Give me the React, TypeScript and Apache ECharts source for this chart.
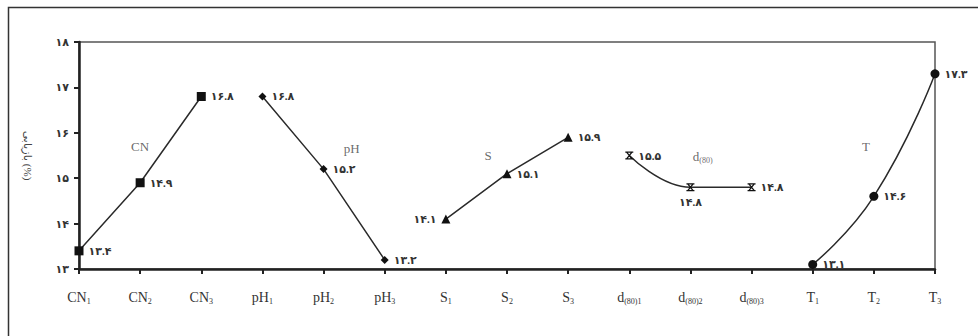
import React, { useEffect, useRef } from "react";
import * as echarts from "echarts";

const categories = [
  "CN{sub|1}", "CN{sub|2}", "CN{sub|3}",
  "pH{sub|1}", "pH{sub|2}", "pH{sub|3}",
  "S{sub|1}", "S{sub|2}", "S{sub|3}",
  "d{sub|(80)1}", "d{sub|(80)2}", "d{sub|(80)3}",
  "T{sub|1}", "T{sub|2}", "T{sub|3}",
];
const yTicks = ["۱۳", "۱۴", "۱۵", "۱۶", "۱۷", "۱۸"];
const cnValues = [13.4, 14.9, 16.8];
const phValues = [16.8, 15.2, 13.2];
const sValues = [14.1, 15.1, 15.9];
const dValues = [15.5, 14.8, 14.8];
const tValues = [13.1, 14.6, 17.3];
const groupNames = ["CN", "pH", "S", "d{sub|(80)}", "T"];
// anchor points (category index, value) for the group annotations
const groupAnchors = [
  [1.0, 15.7],
  [4.46, 15.66],
  [6.69, 15.49],
  [10.2, 15.47],
  [12.87, 15.7],
];
const yAxisTitle = "بازیابی (%)";

const faDigits = "۰۱۲۳۴۵۶۷۸۹";
const toFa = (v: number) =>
  v.toFixed(1).replace(/[0-9]/g, (d) => faDigits[+d]);

const SERIF = "'Liberation Serif', 'DejaVu Serif', serif";
const LABEL_FONT = "'Liberation Serif', 'DejaVu Sans', serif";

const xSymbol =
  "path://M0,0H10V1.6H0Z M0,8.4H10V10H0Z M0,0L2,0L10,10L8,10Z M8,0L10,0L2,10L0,10Z";

export default function App() {
  const ref = useRef<HTMLDivElement>(null);
  useEffect(() => {
    document.body.style.margin = "0";
    const chart = echarts.init(ref.current!, null, { renderer: "svg" });

    const mk = (
      values: number[],
      offset: number,
      symbol: string,
      size: number,
      smooth: number | boolean,
      positions: string[]
    ) => ({
      type: "line",
      smooth,
      symbol,
      symbolSize: size,
      showAllSymbol: true,
      lineStyle: { color: "#2a2a2a", width: 1.5 },
      itemStyle: { color: "#111" },
      data: values.map((v, i) => ({
        value: [offset + i, v],
        label: {
          show: true,
          position: positions[i],
          distance: 5,
          formatter: toFa(v),
          fontFamily: LABEL_FONT,
          fontSize: 11,
          fontWeight: "bold",
          color: "#333",
        },
      })),
    });

    const option: any = {
      animation: false,
      grid: {
        left: 79,
        right: 43,
        top: 42,
        bottom: 67,
        show: true,
        borderColor: "#555",
        borderWidth: 1.5,
        backgroundColor: "transparent",
      },
      xAxis: {
        type: "value",
        min: 0,
        max: 14,
        interval: 1,
        splitLine: { show: false },
        axisLine: { lineStyle: { color: "#222", width: 2.5 } },
        axisTick: { length: 5, lineStyle: { color: "#222", width: 2 } },
        axisLabel: {
          margin: 20,
          fontFamily: SERIF,
          fontSize: 14,
          color: "#333",
          formatter: (v: number) => categories[Math.round(v)] ?? "",
          rich: {
            sub: {
              fontFamily: SERIF,
              fontSize: 8,
              color: "#333",
              verticalAlign: "bottom",
              padding: [8, 0, 0, 0],
            },
          },
        },
      },
      yAxis: {
        type: "value",
        min: 13,
        max: 18,
        interval: 1,
        name: yAxisTitle,
        nameLocation: "middle",
        nameRotate: -90,
        nameGap: 46,
        nameTextStyle: { fontFamily: LABEL_FONT, fontSize: 11, color: "#444" },
        splitLine: { show: false },
        axisLine: { show: true, lineStyle: { color: "#222", width: 2.5 } },
        axisTick: { show: true, length: 5, lineStyle: { color: "#222", width: 2 } },
        axisLabel: {
          margin: 10,
          fontFamily: LABEL_FONT,
          fontSize: 11,
          fontWeight: "bold",
          color: "#333",
          formatter: (v: number) => yTicks[Math.round(v - 13)] ?? "",
        },
      },
      series: [
        mk(cnValues, 0, "rect", 9, false, ["right", "right", "right"]),
        mk(phValues, 3, "diamond", 8, false, ["right", "right", "right"]),
        mk(sValues, 6, "triangle", 9, false, ["left", "right", "right"]),
        mk(dValues, 9, xSymbol, 8, 0.45, ["right", "bottom", "right"]),
        mk(tValues, 12, "circle", 9, 0.5, ["right", "right", "right"]),
        {
          type: "scatter",
          symbolSize: 0,
          silent: true,
          data: groupAnchors.map((p, i) => ({
            value: p,
            label: {
              show: true,
              position: "inside",
              formatter: groupNames[i],
              fontFamily: SERIF,
              fontSize: 13,
              color: "#444",
              rich: {
                sub: {
                  fontFamily: SERIF,
                  fontSize: 8,
                  color: "#444",
                  verticalAlign: "bottom",
                  padding: [7, 0, 0, 0],
                },
              },
            },
          })),
        },
      ],
      graphic: [
        {
          type: "polyline",
          silent: true,
          shape: { points: [[8.5, 340], [8.5, 7.5], [980, 7.5]] },
          style: { stroke: "#333", lineWidth: 1.5, fill: "none" },
        },
      ],
    };
    chart.setOption(option);
    return () => chart.dispose();
  }, []);
  return (
    <div
      ref={ref}
      style={{ position: "fixed", left: 0, top: 0, width: 978, height: 336, background: "#fff" }}
    />
  );
}
